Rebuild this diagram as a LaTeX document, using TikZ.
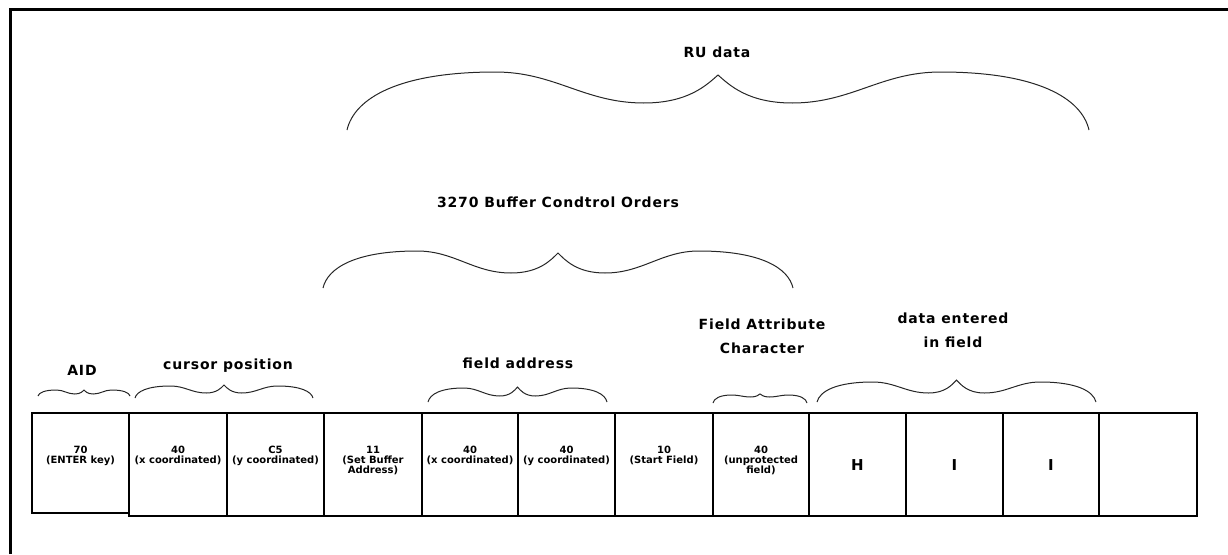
\documentclass[tikz,border=0pt]{standalone}
\usepackage{fontspec}
\newfontfamily\lblfont{DejaVu Sans}[LetterSpace=6]
\newfontfamily\celfont{DejaVu Sans}
\newcommand\brc[6]{%
\pgfmathsetmacro\brW{#2-#1}%
\pgfmathsetmacro\brM{(#1+#2)/2}%
\draw[brace line] (#1,#3)
 .. controls ({#1+0.01*\brW},{#4+0.45*(#3-#4)}) and ({#1+0.07*\brW},#4) .. ({#1+0.2*\brW},#4)
 .. controls ({#1+0.28*\brW},#4) and ({#1+0.32*\brW},#5) .. ({#1+0.4*\brW},#5)
 .. controls ({#1+0.46*\brW},#5) and ({\brM-0.015*\brW},{#6+0.35*(#5-#6)}) .. (\brM,#6)
 .. controls ({\brM+0.015*\brW},{#6+0.35*(#5-#6)}) and ({#2-0.46*\brW},#5) .. ({#2-0.4*\brW},#5)
 .. controls ({#2-0.32*\brW},#5) and ({#2-0.28*\brW},#4) .. ({#2-0.2*\brW},#4)
 .. controls ({#2-0.07*\brW},#4) and ({#2-0.01*\brW},{#4+0.45*(#3-#4)}) .. (#2,#3);}
\tikzset{
  brace line/.style={line width=1pt, draw=black!85},
  cell/.style={draw, line width=1.3pt, minimum height=103pt, inner sep=0pt},
  celltext/.style={anchor=north, inner sep=0pt, align=center, font=\celfont\bfseries\fontsize{10}{10}\selectfont},
  bigletter/.style={inner sep=0pt, font=\celfont\bfseries\fontsize{15}{15}\selectfont},
  lbl/.style={anchor=base, inner sep=0pt, align=center, font=\lblfont\bfseries\fontsize{14}{23.5}\selectfont},
}
\begin{document}
\begin{tikzpicture}[x=1pt,y=-1pt]
\useasboundingbox (0,0) rectangle (1228,554);
% frame
\draw[line width=3pt, line join=miter] (10,554) -- (10,9) -- (1228,9);

% cells
\node[cell, minimum width=97pt, minimum height=100pt] (b1) at (80.5,463) {};
\node[cell, minimum width=98pt] (b2) at (178,464.5) {};
\node[cell, minimum width=97pt] (b3) at (275.5,464.5) {};
\node[cell, minimum width=98pt] (b4) at (373,464.5) {};
\node[cell, minimum width=96pt] (b5) at (470,464.5) {};
\node[cell, minimum width=97pt] (b6) at (566.5,464.5) {};
\node[cell, minimum width=98pt] (b7) at (664,464.5) {};
\node[cell, minimum width=96pt] (b8) at (761,464.5) {};
\node[cell, minimum width=97pt] (b9) at (857.5,464.5) {};
\node[cell, minimum width=97pt] (b10) at (954.5,464.5) {};
\node[cell, minimum width=96pt] (b11) at (1051,464.5) {};
\node[cell, minimum width=98pt] (b12) at (1148,464.5) {};

% cell texts
\node[celltext] (t1) at (80.5,446) {70\\(ENTER key)};
\node[celltext] (t2) at (178,446) {40\\(x coordinated)};
\node[celltext] (t3) at (275.5,446) {C5\\(y coordinated)};
\node[celltext] (t4) at (373,446) {11\\(Set Buffer\\Address)};
\node[celltext] (t5) at (470,446) {40\\(x coordinated)};
\node[celltext] (t6) at (566.5,446) {40\\(y coordinated)};
\node[celltext] (t7) at (664,446) {10\\(Start Field)};
\node[celltext] (t8) at (761,446) {40\\(unprotected\\field)};
\node[bigletter] (t9) at (857.5,465) {H};
\node[bigletter] (t10) at (954.5,465) {I};
\node[bigletter] (t11) at (1051,465) {I};

% labels
\node[lbl] (ru) at (717,57) {RU data};
\node[lbl] (bco) at (558,207) {3270 Buffer Condtrol Orders};
\node[lbl] (aid) at (82,375) {AID};
\node[lbl] (cur) at (228,369) {cursor position};
\node[lbl] (fad) at (518,368) {field address};
\node[lbl] (fac) at (762,353) {Field Attribute\\Character};
\node[lbl] (den) at (953,347) {data entered\\in field};

% braces
\brc{347}{1089}{130}{72}{103}{75}
\brc{323}{793}{288}{251}{273}{253}
\brc{38}{130}{396}{390}{394}{390}
\brc{135}{313}{398}{386}{393}{385}
\brc{428}{607}{402}{388}{396}{387}
\brc{713}{807}{403}{395}{397}{394}
\brc{817}{1096}{402}{382}{393}{380}
\end{tikzpicture}
\end{document}
